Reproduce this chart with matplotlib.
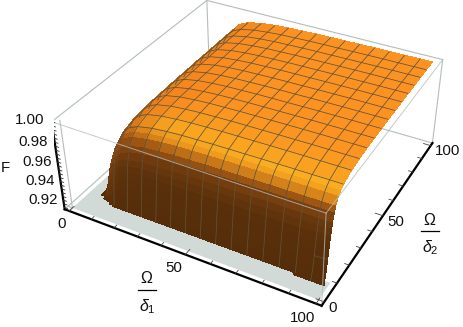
import numpy as np
import matplotlib
matplotlib.use('Agg')
import matplotlib.pyplot as plt
from mpl_toolkits.mplot3d.art3d import Poly3DCollection

plt.rcParams['font.family'] = ['Liberation Sans', 'DejaVu Sans']
plt.rcParams['mathtext.fontset'] = 'custom'
plt.rcParams['mathtext.rm'] = 'Liberation Sans'
plt.rcParams['mathtext.it'] = 'Liberation Sans:italic'

W, H = 463, 327
x_nodes = [5,7,9,10.5,12.5,15,18.75,25,31.25,37.5,43.75,50,56.25,62.5,68.75,75,81.25,87.5,93.75,98.5]
y_nodes = [7,7.5,8,8.5,9,9.5,10,10.5,11,11.5,12.5,13.5,15,16.5,18.75,25,31.25,37.5,43.75,50,56.25,62.5,68.75,75,81.25,87.5,93.75,100]
# F, one row per x node
F_rows = [
 [.91,.91,.91,.91,.91,.91,.91,.91,.91,.91,.91,.91,.91,.91,.91,.91,.91,.911,.9113,.9116,.9118,.912,.9122,.9123,.9124,.9125,.9125,.9125],
 [.91,.91,.91,.91,.91,.91,.91,.91,.91,.91,.912,.917,.922,.925,.928,.9315,.933,.934,.9343,.9346,.9348,.935,.9352,.9353,.9354,.9355,.9355,.9355],
 [.91,.91,.91,.91,.91,.91,.91,.915,.922,.928,.936,.941,.946,.949,.952,.9555,.957,.958,.9583,.9586,.9588,.959,.9592,.9593,.9594,.9595,.9595,.9595],
 [.91,.91,.91,.91,.91,.91,.918,.926,.933,.939,.947,.952,.957,.96,.963,.9665,.968,.969,.9693,.9696,.9698,.97,.9702,.9703,.9704,.9705,.9705,.9705],
 [.91,.91,.91,.91,.915,.925,.934,.94,.946,.951,.956,.961,.966,.969,.972,.9755,.977,.978,.9783,.9786,.9788,.979,.9792,.9793,.9794,.9795,.9795,.9795],
 [.91,.91,.91,.912,.921,.93,.938,.945,.951,.956,.962,.967,.972,.975,.978,.9815,.983,.984,.9843,.9846,.9848,.985,.9852,.9853,.9854,.9855,.9855,.9855],
 [.91,.91,.91,.915,.924,.933,.941,.948,.954,.959,.966,.971,.976,.979,.982,.9855,.987,.988,.9883,.9886,.9888,.989,.9892,.9893,.9894,.9895,.9895,.9895],
 [.91,.91,.91,.917,.925,.934,.942,.95,.956,.962,.969,.974,.979,.982,.985,.9885,.99,.991,.9913,.9916,.9918,.992,.9922,.9923,.9924,.9925,.9925,.9925],
 [.91,.91,.91,.9175,.9255,.9345,.9425,.9505,.9565,.9625,.9705,.9755,.9805,.9835,.9865,.99,.9915,.9925,.9928,.9931,.9933,.9935,.9937,.9938,.9939,.994,.994,.994],
 [.91,.91,.91,.9175,.926,.935,.9435,.951,.9575,.9635,.9715,.9765,.9815,.9845,.9875,.991,.9925,.9935,.9938,.9941,.9943,.9945,.9947,.9948,.9949,.995,.995,.995],
 [.91,.91,.91,.9175,.926,.935,.944,.951,.958,.964,.972,.977,.982,.985,.988,.9915,.993,.994,.9943,.9946,.9948,.995,.9952,.9953,.9954,.9955,.9955,.9955],
 [.91,.91,.91,.9175,.9265,.9355,.9445,.9515,.9585,.9645,.9725,.9775,.9825,.9855,.9885,.992,.9935,.9945,.9948,.9951,.9953,.9955,.9957,.9958,.9959,.996,.996,.996],
 [.91,.91,.91,.9175,.9265,.9355,.9445,.9518,.9588,.9648,.9728,.9778,.9828,.9858,.9888,.9923,.9938,.9948,.9951,.9954,.9956,.9958,.996,.9961,.9962,.9963,.9963,.9963],
 [.91,.91,.91,.9175,.9265,.9355,.9445,.952,.959,.965,.973,.978,.983,.986,.989,.9925,.994,.995,.9953,.9956,.9958,.996,.9962,.9963,.9964,.9965,.9965,.9965],
 [.91,.91,.91,.9175,.9265,.9355,.9445,.9523,.9593,.9653,.9733,.9783,.9833,.9863,.9893,.9928,.9943,.9953,.9956,.9959,.9961,.9963,.9965,.9966,.9967,.9968,.9968,.9968],
 [.91,.91,.91,.9175,.9265,.9355,.9445,.9525,.9595,.9655,.9735,.9785,.9835,.9865,.9895,.993,.9945,.9955,.9958,.9961,.9963,.9965,.9967,.9968,.9969,.997,.997,.997],
 [.91,.91,.91,.9177,.9267,.9357,.9447,.9527,.9597,.9657,.9737,.9787,.9837,.9867,.9897,.9932,.9947,.9957,.996,.9963,.9965,.9967,.9969,.997,.9971,.9972,.9972,.9972],
 [.91,.91,.91,.9178,.9268,.9358,.9448,.9528,.9598,.9658,.9738,.9788,.9838,.9868,.9898,.9933,.9948,.9958,.9961,.9964,.9966,.9968,.997,.9971,.9972,.9973,.9973,.9973],
 [.91,.914,.918,.925,.932,.94,.947,.954,.96,.966,.974,.979,.984,.987,.99,.9934,.9949,.9959,.9962,.9965,.9967,.9969,.9971,.9972,.9973,.9974,.9974,.9974],
 [.91,.915,.92,.926,.933,.941,.948,.955,.961,.966,.974,.979,.984,.987,.99,.9935,.995,.996,.9963,.9966,.9968,.997,.9972,.9973,.9974,.9975,.9975,.9975],
]
mesh_x = [12.5,18.75,25,31.25,37.5,43.75,50,56.25,62.5,68.75,75,81.25,87.5,93.75]
mesh_y = [18.75,25,31.25,37.5,43.75,50,56.25,62.5,68.75,75,81.25,87.5,93.75]
ticks_xy = [0,10,20,30,40,50,60,70,80,90,100]
ticks_z = [.912,.916,.92,.924,.928,.932,.936,.94,.944,.948,.952,.956,.96,.964,.968,.972,.976,.98,.984,.988,.992,.996,1.]
z_labels = ['1.00','0.98','0.96','0.94','0.92']

x_nodes = np.array(x_nodes); y_nodes = np.array(y_nodes); F = np.array(F_rows)

fig = plt.figure(figsize=(W/100, H/100), dpi=100)
S, left, bottom = 395.71, 53.55, -9.43
ax = fig.add_axes([left/W, bottom/H, S/W, S/H], projection='3d', computed_zorder=False)
ax.set_xlim(-2, 102, view_margin=0); ax.set_ylim(-2, 102, view_margin=0); ax.set_zlim(.91, 1., view_margin=0)
ax.view_init(34.689, -61.334, 0.234)
ax.set_proj_type('persp', focal_length=0.452)
ax.set_box_aspect((1, 0.996, 0.372))
ax.set_axis_off()

x0, x1, y0, y1, z0, z1 = -2, 102, -2, 102, .91, 1.
gray = '#b4bcbc'
# clipped part of the surface, left grey on the floor
cap = [(0,0,z0),(100,0,z0),(100,9,z0),(9,9,z0),(9,100,z0),(0,100,z0)]
ax.add_collection3d(Poly3DCollection([cap], facecolor='#d2dad8', edgecolor='none', zorder=1))
for a, b in [((x0,y1,z0),(x1,y1,z0)), ((x0,y0,z0),(x0,y1,z0)), ((x0,y1,z0),(x0,y1,z1)), ((x0,y1,z1),(x1,y1,z1)),
             ((x0,y0,z1),(x0,y1,z1)), ((x1,y1,z0),(x1,y1,z1)), ((0,0,z0),(0,0,z1)), ((x0,0,z0),(0,0,z0)), ((0,x0,z0),(0,0,z0))]:
    ax.plot(*zip(a, b), color=gray, lw=.8, zorder=2)

# colour from height, going plain orange where the x slope is the stronger one
X, Y = np.meshgrid(x_nodes, y_nodes, indexing='ij')
dx = np.gradient(F, x_nodes, axis=0); dy = np.gradient(F, y_nodes, axis=1)
sx = (dx[:-1,:-1]+dx[1:,:-1]+dx[:-1,1:]+dx[1:,1:])/4
sy = (dy[:-1,:-1]+dy[1:,:-1]+dy[:-1,1:]+dy[1:,1:])/4
Fc = (F[:-1,:-1]+F[1:,:-1]+F[:-1,1:]+F[1:,1:])/4
stops_a = [.91, .95, .968, .977, .983, .988, .9925, .996]
cols_a = np.array([[85,45,10],[90,48,11],[110,58,14],[160,88,20],[235,150,30],[250,175,32],[250,160,32],[252,146,34]])/255.
stops_b = [.91, .97, .98, .99, .996]
cols_b = np.array([[85,45,10],[165,88,20],[215,115,25],[245,135,30],[252,146,34]])/255.
w = np.clip(sx/(sx+sy+1e-6)*1.3, 0, 1)
fc = np.ones(sy.shape+(4,))
for c in range(3):
    fc[...,c] = (1-w)*np.interp(Fc, stops_a, cols_a[:,c]) + w*np.interp(Fc, stops_b, cols_b[:,c])
fc[(F[:-1,:-1]<=.91)&(F[1:,:-1]<=.91)&(F[:-1,1:]<=.91)&(F[1:,1:]<=.91), 3] = 0
ax.plot_surface(X, Y, F, rstride=1, cstride=1, facecolors=fc, shade=False, linewidth=.5, antialiased=False, zorder=3)

mesh_color = '#5f5339'
for mx in mesh_x:
    i = np.argmin(abs(x_nodes-mx))
    ok = F[i] > .91
    ok[:-1] |= ok[1:]
    ax.plot(x_nodes[i]*np.ones(ok.sum()), y_nodes[ok], F[i][ok], color=mesh_color, lw=.55, zorder=4)
for my in mesh_y:
    j = np.argmin(abs(y_nodes-my))
    ok = x_nodes >= 10.5
    ax.plot(x_nodes[ok], y_nodes[j]*np.ones(ok.sum()), F[:,j][ok], color=mesh_color, lw=.55, zorder=4)
# short mesh piece left on the wall at the far corner
ax.plot(x_nodes[-2:], [9,9], F[-2:,4], color=mesh_color, lw=.55, zorder=4)

# box edges in front of the surface
for a, b in [((x0,y0,z1),(x1,y0,z1)), ((x1,y0,z1),(x1,y1,z1)), ((x1,y0,z0),(x1,y0,z1))]:
    ax.plot(*zip(a, b), color=gray, lw=.7, alpha=.8, zorder=5)

# axes
ax.plot([x0,x1],[y0,y0],[z0,z0], color='k', lw=1.6, zorder=6)
ax.plot([x1,x1],[y0,y1],[z0,z0], color='k', lw=1.6, zorder=6)
ax.plot([x0,x0],[y0,y0],[z0,z1], color='k', lw=1.6, zorder=6)
for t in ticks_xy:
    ln = 3 if t % 50 == 0 else 1.7
    ax.plot([t,t],[y0,y0+ln],[z0,z0], color='#444444', lw=.6, zorder=6)
    ax.plot([x1,x1-ln],[t,t],[z0,z0], color='#444444', lw=.6, zorder=6)
for t in ticks_z:
    ax.plot([x0,x0+1.4],[y0,y0],[t,t], color='#333333', lw=.6, zorder=6)

def label(px, py, s, size=10.8):
    fig.text(px/W, 1-py/H, s, ha='center', va='center', fontsize=size, color='#111111')

for px, py, s in zip([30,33,37,40,43], [120,141.5,161.5,181,200], z_labels):
    label(px, py, s)
for px, py, s in [(5,168,'F'),(62,224,'0'),(174,268,'50'),(303,318,'100'),(333,308,'0'),(396,222,'50'),(448,151,'100')]:
    label(px, py, s)
label(147, 278, r'$\Omega$', 11.5)
label(147, 307, r'$\delta_1$', 11.5)
label(430, 220, r'$\Omega$', 11.5)
label(430, 248, r'$\delta_2$', 11.5)
fig.add_artist(plt.Line2D([138/W,156/W],[1-290/H,1-290/H], color='k', lw=.9))
fig.add_artist(plt.Line2D([421/W,439/W],[1-231/H,1-231/H], color='k', lw=.9))
fig.savefig('out.png', dpi=100)
